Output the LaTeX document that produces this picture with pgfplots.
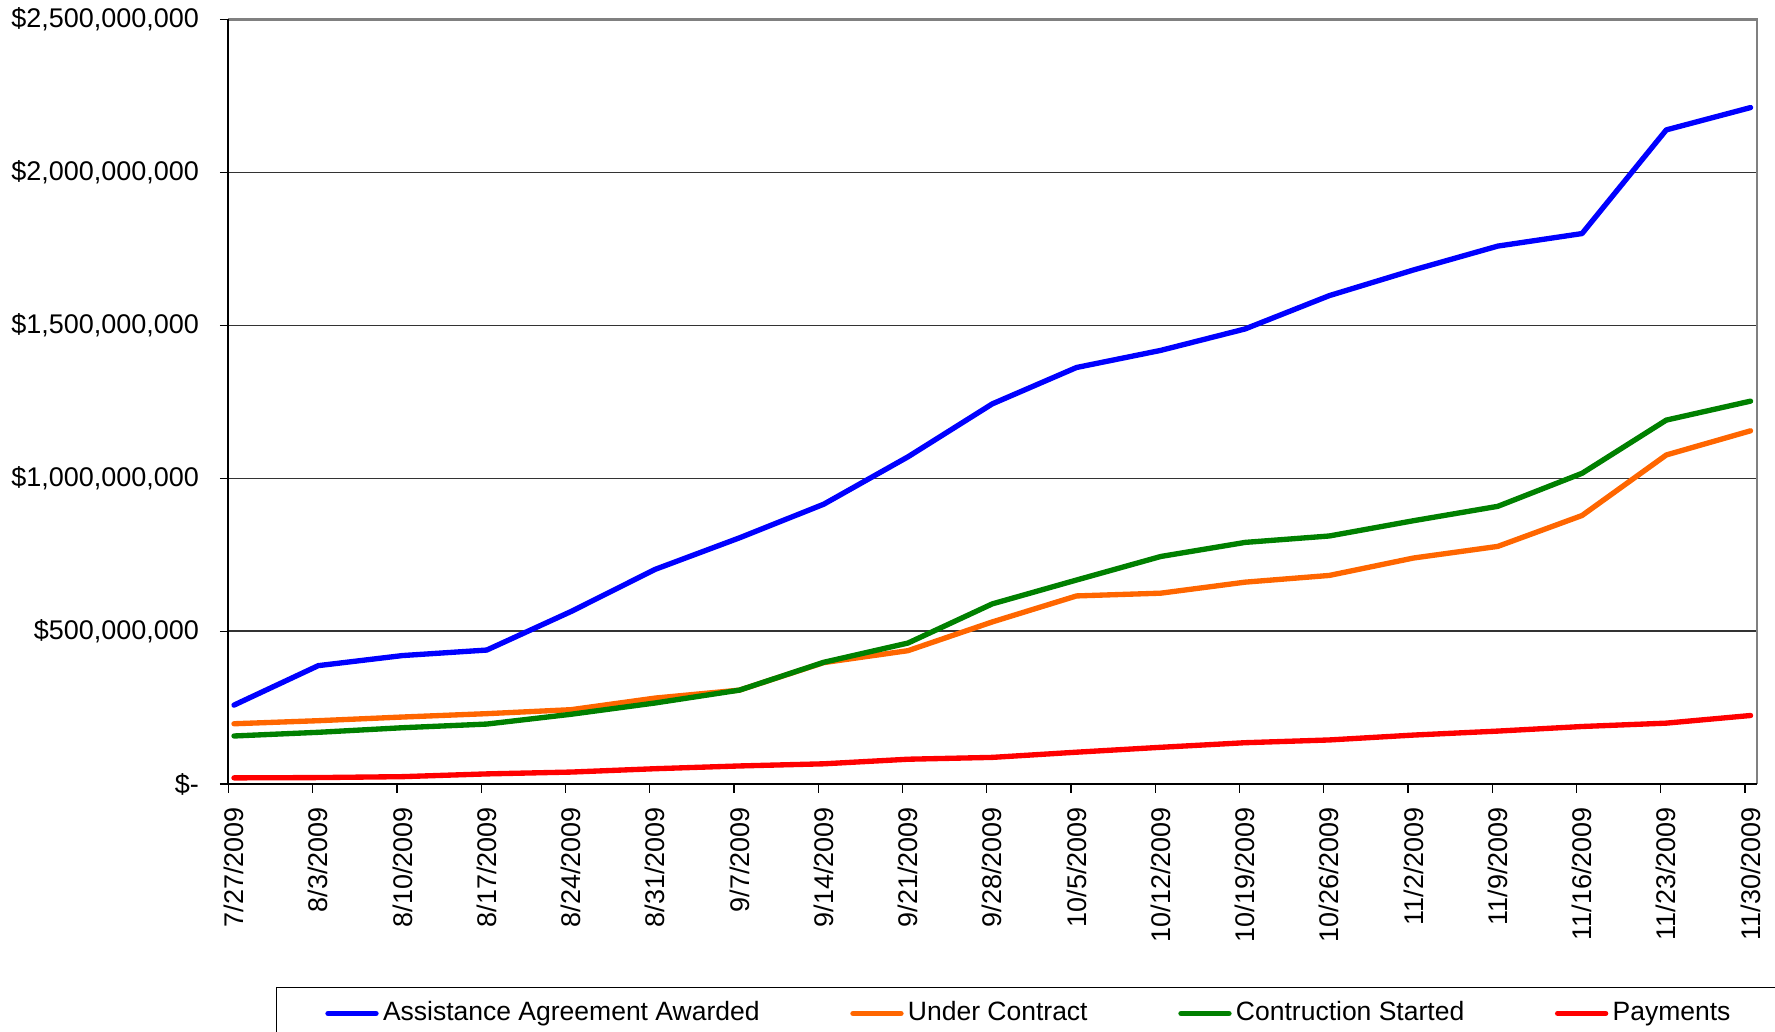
\documentclass[border=0pt]{standalone}
\usepackage{fontspec}
\setmainfont{Liberation Sans}
\usepackage{pgfplots}
\pgfplotsset{compat=1.18}
\usepackage{pgfplotstable}

\definecolor{sBlue}{RGB}{0,0,255}
\definecolor{sOrange}{RGB}{255,102,0}
\definecolor{sGreen}{RGB}{0,128,0}
\definecolor{sRed}{RGB}{255,0,0}

% values in millions of dollars
\pgfplotstableread{
idx award contract started pay
0  258  197  157  20
1  387  207  169  21
2  420  219  184  24
3  438  230  196  33
4  564  243  228  39
5  702  281  265  50
6  805  307  307  59
7  915  397  398  66
8  1070 436  461  81
9  1243 530  589  87
10 1362 615  667  104
11 1418 624  744  120
12 1488 660  790  135
13 1597 682  811  144
14 1681 739  861  160
15 1759 777  908  173
16 1800 878  1016 188
17 2139 1076 1190 199
18 2212 1155 1252 224
}\data

\newcommand{\lblfont}{\fontsize{8.1}{9.7}\selectfont}
\newcommand{\legfont}{\fontsize{7.95}{9.5}\selectfont}

\begin{document}
\begin{tikzpicture}
\begin{axis}[
  scale only axis, width=458.46pt, height=229.35pt,
  xmin=-0.0653, xmax=18.073, ymin=0, ymax=2500,
  clip=false,
  axis line style={draw=none},
  xtick={0,1,2,3,4,5,6,7,8,9,10,11,12,13,14,15,16,17,18},
  xticklabels={7/27/2009,8/3/2009,8/10/2009,8/17/2009,8/24/2009,8/31/2009,9/7/2009,9/14/2009,9/21/2009,9/28/2009,10/5/2009,10/12/2009,10/19/2009,10/26/2009,11/2/2009,11/9/2009,11/16/2009,11/23/2009,11/30/2009},
  xtick style={draw=none},
  extra x ticks={-0.0653,0.9347,1.9347,2.9347,3.9347,4.9347,5.9347,6.9347,7.9347,8.9347,9.9347,10.9347,11.9347,12.9347,13.9347,14.9347,15.9347,16.9347,17.9347},
  extra x tick labels={,,,,,,,,,,,,,,,,,,},
  extra x tick style={grid=none, xtick style={draw=black, line width=0.35pt}},
  ytick={0,500,1000,1500,2000,2500},
  yticklabels={{\$-},{\$500,000,000},{\$1,000,000,000},{\$1,500,000,000},{\$2,000,000,000},{\$2,500,000,000}},
  xtick pos=bottom, ytick pos=left,
  tick align=outside,
  major tick length=2.6pt,
  ytick style={black, line width=0.35pt},
  ymajorgrids,
  grid style={black!80, line width=0.4pt},
  tick label style={font=\lblfont},
  xticklabel style={rotate=90, anchor=east, inner sep=0pt},
  yticklabel style={anchor=east, inner sep=0pt},
  xticklabel shift=4.2pt,
  yticklabel shift=6.05pt,
  legend columns=4,
  legend image code/.code={\draw[#1, line cap=round] (0pt,0pt) -- (14.4pt,0pt);},
  legend style={
    at={(0.0311,-0.2651)}, anchor=north west,
    draw=black, line width=0.4pt,
    inner xsep=14.6pt, inner ysep=4.2pt,
    font=\legfont,
    nodes={inner sep=0pt},
    /tikz/every odd column/.append style={column sep=1.3pt},
    /tikz/every even column/.append style={column sep=27.2pt},
  },
  legend cell align=left,
  every axis plot/.append style={line width=1.6pt, line join=round, line cap=round},
]
\addplot[sBlue] table[x=idx, y=award] {\data};
\addlegendentry{Assistance Agreement Awarded}
\addplot[sOrange] table[x=idx, y=contract] {\data};
\addlegendentry{Under Contract}
\addplot[sGreen] table[x=idx, y=started] {\data};
\addlegendentry{Contruction Started}
\addplot[sRed] table[x=idx, y=pay] {\data};
\addlegendentry{Payments}

\draw[black!50, line width=0.7pt] (rel axis cs:0,1) -- (rel axis cs:1,1) -- (rel axis cs:1,0);
\draw[black, line width=0.6pt] (rel axis cs:0,1) -- (rel axis cs:0,0) -- (rel axis cs:1,0);
\end{axis}
\pgfresetboundingbox
\useasboundingbox (-68.55pt,-74.4pt) rectangle (463.95pt,235.2pt);
\end{tikzpicture}
\end{document}
